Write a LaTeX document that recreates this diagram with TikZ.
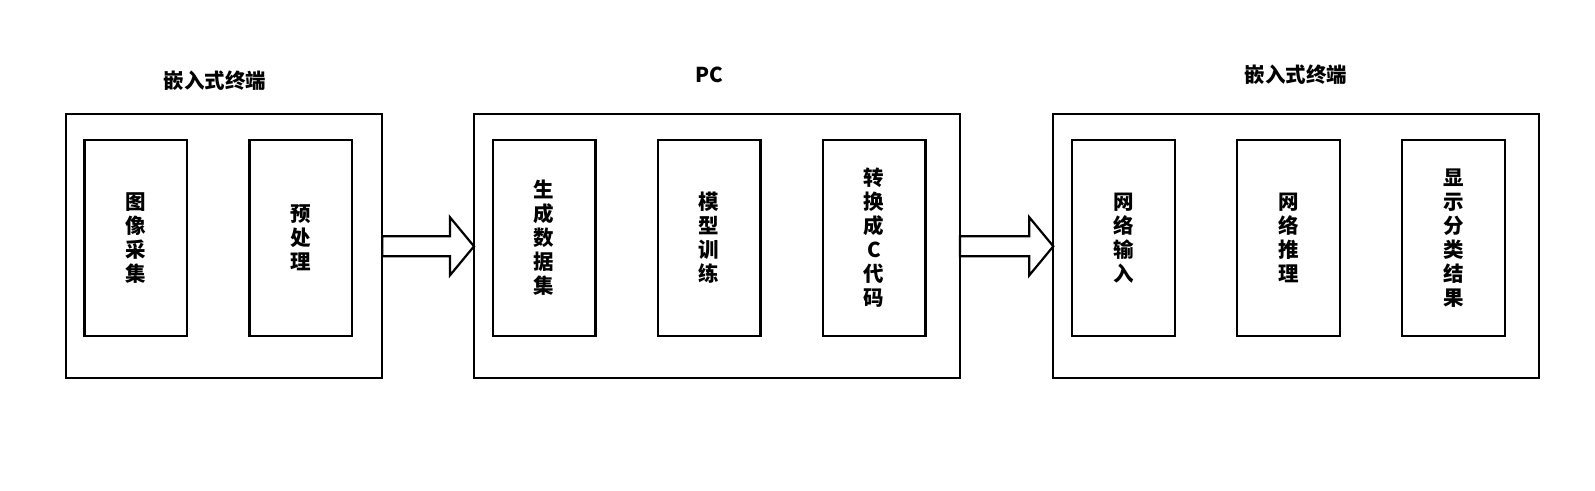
\documentclass[tikz,border=0pt]{standalone}
\usepackage{fontspec}
\newfontfamily\cjk{Noto Sans CJK SC}
\usetikzlibrary{positioning}

\begin{document}
\begin{tikzpicture}[
            x = 1pt, y = 1pt, % one unit is one pixel
            line width = 2.2pt, % line style
            node distance = 62.3pt, % gap between inner boxes
            every node/.style = {font = \cjk\bfseries\fontsize{20.5}{24}\selectfont}
        ]

        \tikzstyle{outer}=[
            draw = black,
            outer sep = 0pt,
            minimum height = 264pt,
            anchor = north west
        ]
        \tikzstyle{inner}=[
            draw = black,
            outer sep = 0pt,
            inner sep = 0pt,
            minimum width = 102.7pt,
            minimum height = 196pt,
            align = center
        ]
        \tikzstyle{bigarrow}=[
            draw = black,
            fill = white,
            line join = miter
        ]

	\useasboundingbox (0,0) rectangle (1595,490);

	\node[outer, minimum width = 316.6pt] (emb1) at (65.7,375.7) {};
	\node[outer, minimum width = 486pt] (pc) at (474,375.7) {};
	\node[outer, minimum width = 485.7pt] (emb2) at (1053.3,375.7) {};

	\node (t1) at (215,409) {嵌入式终端};
	\node (t2) at (709,415) {PC};
	\node (t3) at (1296,415) {嵌入式终端};

	\node[inner] (img) [below right = 25.7pt and 18.7pt of emb1.north west] {图\\像\\采\\集};
	\node[inner] (pre) [right = of img] {预\\处\\理};

	\node[inner] (gen) [below right = 25.7pt and 18.7pt of pc.north west] {生\\成\\数\\据\\集};
	\node[inner] (train) [right = of gen] {模\\型\\训\\练};
	\node[inner] (conv) [right = of train] {转\\换\\成\\C\\代\\码};

	\node[inner] (netin) [below right = 25.7pt and 18.7pt of emb2.north west] {网\\络\\输\\入};
	\node[inner] (infer) [right = of netin] {网\\络\\推\\理};
	\node[inner] (show) [right = of infer] {显\\示\\分\\类\\结\\果};

	% block arrows between the three parts
	\path[bigarrow] ([yshift=10]emb1.east) -- ([xshift=-24,yshift=10]pc.west)
	    -- ([xshift=-24,yshift=29]pc.west) -- (pc.west)
	    -- ([xshift=-24,yshift=-29]pc.west) -- ([xshift=-24,yshift=-10]pc.west)
	    -- ([yshift=-10]emb1.east) -- cycle;
	\path[bigarrow] ([yshift=10]pc.east) -- ([xshift=-24,yshift=10]emb2.west)
	    -- ([xshift=-24,yshift=29]emb2.west) -- (emb2.west)
	    -- ([xshift=-24,yshift=-29]emb2.west) -- ([xshift=-24,yshift=-10]emb2.west)
	    -- ([yshift=-10]pc.east) -- cycle;

    \end{tikzpicture}
\end{document}
